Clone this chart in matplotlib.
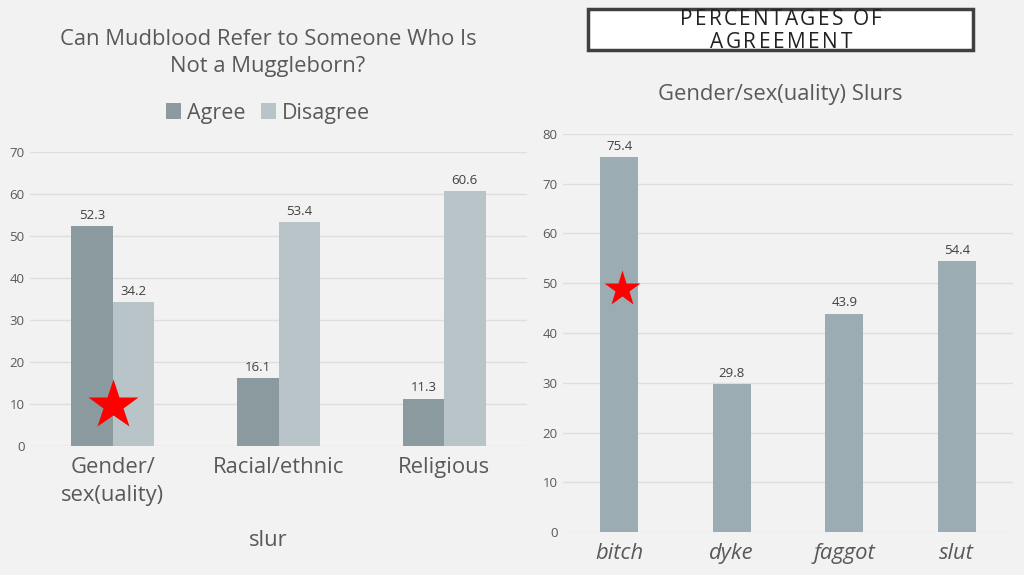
import numpy as np
import matplotlib
matplotlib.use("Agg")
import matplotlib.pyplot as plt
from matplotlib.patches import Rectangle

plt.rcParams['font.family'] = ['Open Sans', 'DejaVu Sans']

# left chart data
groups = ['Gender/\nsex(uality)', 'Racial/ethnic', 'Religious']
agree = [52.3, 16.1, 11.3]
disagree = [34.2, 53.4, 60.6]

# right chart data
slurs = ['bitch', 'dyke', 'faggot', 'slut']
slur_agree = [75.4, 29.8, 43.9, 54.4]

# highlight stars (data coords)
star_left = (0.0, 9.8)
star_right = (0.02, 48.8)

BG = '#f2f2f2'
C_AGREE = '#8a9a9f'
C_DIS = '#b8c4c7'
C_SLUR = '#9badb3'
GRID = '#dedede'
TXT = '#595959'

W, H = 1024, 575
fig = plt.figure(figsize=(W / 100, H / 100), dpi=100, facecolor=BG)


def px_axes(l, t, r, b):
    return fig.add_axes([l / W, 1 - b / H, (r - l) / W, (b - t) / H])


def style_axes(ax, ymax, step):
    ax.set_facecolor(BG)
    for s in ax.spines.values():
        s.set_visible(False)
    ax.set_ylim(0, ymax)
    ax.set_yticks(np.arange(0, ymax + 1, step))
    ax.yaxis.grid(True, color=GRID, lw=1)
    ax.set_axisbelow(True)
    ax.tick_params(axis='y', length=0, labelsize=9.5, labelcolor=TXT, pad=4)
    ax.tick_params(axis='x', length=0, labelsize=15.8, labelcolor=TXT, pad=8)


# ---- left chart
ax1 = px_axes(30, 152, 527, 446)
style_axes(ax1, 70, 10)
x = np.arange(len(groups))
w = 0.25
b1 = ax1.bar(x - w / 2, agree, w, color=C_AGREE, label='Agree', zorder=2)
b2 = ax1.bar(x + w / 2, disagree, w, color=C_DIS, label='Disagree', zorder=2)
for b in (b1, b2):
    ax1.bar_label(b, fmt='%.1f', padding=3, fontsize=9.5, color='#404040')
ax1.set_xlim(-0.5, len(groups) - 0.5)
ax1.set_xticks(x)
ax1.set_xticklabels(groups, linespacing=1.4)
ax1.plot(*star_left, marker='*', ms=38, color='red', mec='none', zorder=3)

fig.text(268 / W, 1 - 541 / H, 'slur', ha='center', va='center',
         fontsize=15.8, color=TXT)
fig.text(268 / W, 1 - 53 / H, 'Can Mudblood Refer to Someone Who Is\nNot a Muggleborn?',
         ha='center', va='center', fontsize=15.8, color=TXT, linespacing=1.4)
fig.legend(handles=[b1, b2], loc='center', bbox_to_anchor=(268 / W, 1 - 113 / H),
           ncol=2, frameon=False, fontsize=15.5, labelcolor=TXT,
           handlelength=0.7, handleheight=0.7, handletextpad=0.3, columnspacing=0.7)

# ---- right chart
ax2 = px_axes(563, 134, 1013, 532)
style_axes(ax2, 80, 10)
x2 = np.arange(len(slurs))
b3 = ax2.bar(x2, slur_agree, 0.34, color=C_SLUR, zorder=2)
ax2.bar_label(b3, fmt='%.1f', padding=3, fontsize=9.5, color='#404040')
ax2.set_xlim(-0.5, len(slurs) - 0.5)
ax2.set_xticks(x2)
ax2.set_xticklabels(slurs, style='italic')
ax2.plot(*star_right, marker='*', ms=27, color='red', mec='none', zorder=3)

fig.text(780 / W, 1 - 95 / H, 'Gender/sex(uality) Slurs',
         ha='center', va='center', fontsize=15.8, color=TXT)

# ---- header box
box = Rectangle((588 / W, 1 - 50 / H), (973 - 588) / W, 41 / H, transform=fig.transFigure,
                facecolor='white', edgecolor='#404040', lw=2.5, zorder=5)
fig.patches.append(box)

renderer = fig.canvas.get_renderer()


def spaced_line(s, xc, y_base, target_w, size):
    # draw one line char by char to mimic letter spacing
    tmp = fig.text(0, 0, s, fontsize=size)
    prop = tmp.get_fontproperties()
    tmp.remove()
    widths = [renderer.get_text_width_height_descent(s[:i], prop, ismath=False)[0]
              if i else 0 for i in range(len(s) + 1)]
    track = (target_w - widths[-1]) / (len(s) - 1)
    x0 = xc - target_w / 2
    for i, ch in enumerate(s):
        t = fig.text((x0 + widths[i] + i * track) / W, 1 - y_base / H, ch,
                     fontsize=size, color='#222222', ha='left', va='baseline', zorder=6)
        t.set_clip_path(box)


spaced_line('PERCENTAGES OF', 781, 25, 202, 15)
spaced_line('AGREEMENT', 781, 47.5, 142, 15)

fig.savefig('out.png', dpi=100, facecolor=BG)
